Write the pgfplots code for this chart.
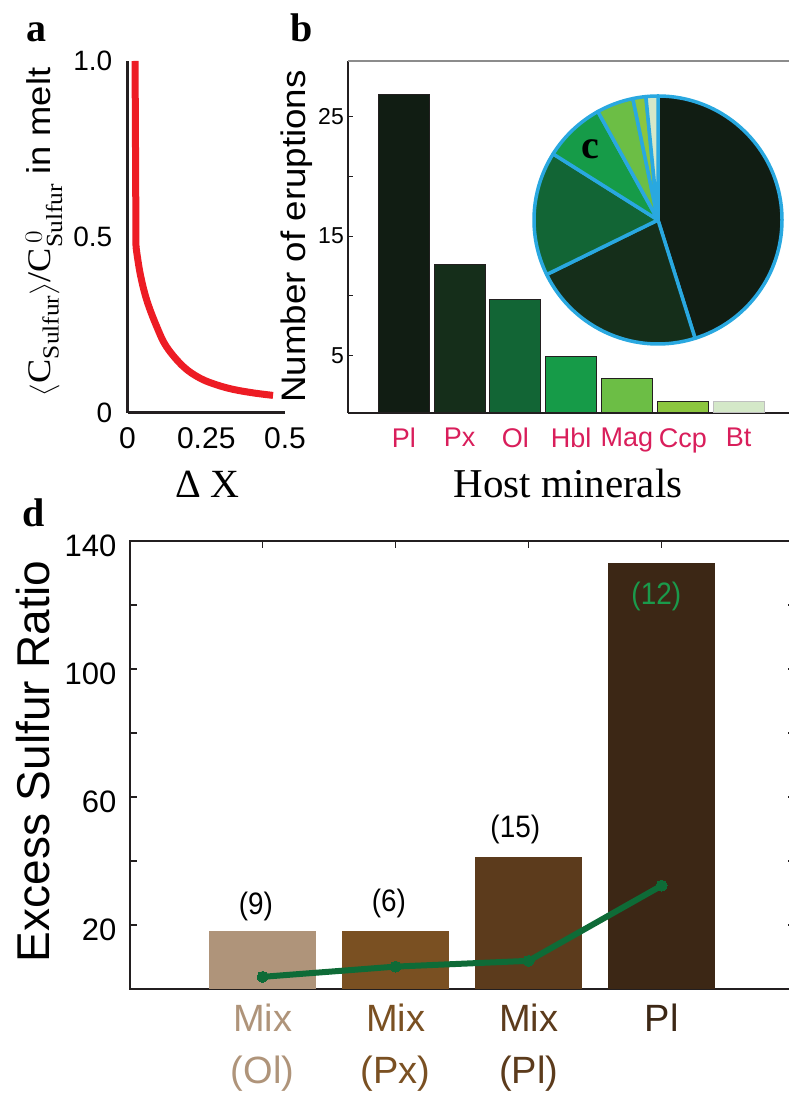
\documentclass[border=0pt]{standalone}
\usepackage{fontspec}
\setmainfont{Liberation Serif}
\setsansfont{Liberation Sans}
\usepackage{amsmath}
\usepackage{graphicx}
\usepackage{pgfplots}
\pgfplotsset{compat=1.18}
\usepackage{pgfplotstable}

\definecolor{axisdark}{HTML}{231F20}
\definecolor{curvered}{HTML}{ED1C24}
\definecolor{labred}{HTML}{D91E5B}
\definecolor{cPl}{HTML}{111D13}
\definecolor{cPx}{HTML}{152E1A}
\definecolor{cOl}{HTML}{126535}
\definecolor{cHbl}{HTML}{169B48}
\definecolor{cMag}{HTML}{6CBE45}
\definecolor{cCcp}{HTML}{8CC63F}
\definecolor{cBt}{HTML}{D4E8C8}
\definecolor{piecyan}{HTML}{29A8E0}
\definecolor{cMixOl}{HTML}{AF947A}
\definecolor{cMixPx}{HTML}{7A5022}
\definecolor{cMixPl}{HTML}{5C3B1C}
\definecolor{cPlD}{HTML}{3C2715}
\definecolor{lineGreen}{HTML}{0E6B37}
\definecolor{lblGreen}{HTML}{1A9A4B}

\newcommand{\fsz}[1]{\fontsize{#1}{#1}\selectfont}

\begin{document}
\begin{tikzpicture}
\useasboundingbox (0pt,0pt) rectangle (788pt,1093pt);

% ---------------- panel a ----------------
\begin{axis}[
  at={(127.5pt,680pt)}, anchor=south west, scale only axis,
  width=157.5pt, height=352pt,
  xmin=0, xmax=0.5, ymin=0, ymax=1,
  axis x line*=bottom, axis y line*=left,
  axis line style={line width=3pt, color=axisdark, -},
  xtick={0,0.25,0.5}, xticklabels={0,0.25,0.5},
  ytick={0,0.5,1}, yticklabels={0,0.5,1.0},
  major tick length=0pt,
  xticklabel style={font=\sffamily\fsz{30}, anchor=north, inner sep=0pt, yshift=-14pt},
  yticklabel style={font=\sffamily\fsz{28}, anchor=east, inner sep=0pt, xshift=-15pt},
  clip=false,
]
\addplot[color=curvered, line width=7pt] coordinates {(0.024,1.0) (0.027,0.472)};
\addplot[color=curvered, line width=7pt, smooth, tension=0.6] coordinates {
(0.027,0.472) (0.040,0.397) (0.061,0.321) (0.093,0.245)
(0.124,0.188) (0.177,0.132) (0.230,0.099) (0.283,0.080) (0.336,0.067)
(0.400,0.057) (0.462,0.050)};
\end{axis}

% ---------------- panel b ----------------
\begin{axis}[
  at={(348pt,680pt)}, anchor=south west, scale only axis,
  width=446.4pt, height=352pt,
  xmin=-1, xmax=7, ymin=0.15, ymax=29.7,
  axis x line*=bottom, axis y line*=left,
  axis line style={line width=2.5pt, color=axisdark, -},
  tick align=inside, major tick length=5pt,
  tick style={line width=1pt, color=axisdark},
  ytick={5,15,25}, extra y ticks={10,20}, extra y tick labels={},
  yticklabel style={font=\sffamily\fsz{23}, anchor=east, inner sep=0pt, xshift=-4pt},
  /pgf/number format/assume math mode=true,
  xtick={0,1.21,2.43,3.66,4.88,6.1}, xticklabels={},
  extra x ticks={0,1,2,3,4,5,6},
  extra x tick labels={Pl,Px,Ol,Hbl,Mag,Ccp,Bt},
  extra x tick style={major tick length=0pt},
  xticklabel style={font=\sffamily\fsz{27}, text=labred, anchor=north, inner sep=0pt, yshift=-15pt},
]
\addplot[ybar, bar width=0.914, fill=cPl,  draw=axisdark, line width=1pt] coordinates {(0,26.9)};
\addplot[ybar, bar width=0.914, fill=cPx,  draw=axisdark, line width=1pt] coordinates {(1,12.6)};
\addplot[ybar, bar width=0.914, fill=cOl,  draw=axisdark, line width=1pt] coordinates {(2,9.7)};
\addplot[ybar, bar width=0.914, fill=cHbl, draw=axisdark, line width=1pt] coordinates {(3,4.9)};
\addplot[ybar, bar width=0.914, fill=cMag, draw=axisdark, line width=1pt] coordinates {(4,3.05)};
\addplot[ybar, bar width=0.914, fill=cCcp, draw=axisdark, line width=1pt] coordinates {(5,1.15)};
\addplot[ybar, bar width=0.914, fill=cBt,  draw=black!25, line width=1pt] coordinates {(6,1.15)};
\draw[line width=3pt, color=black!45] (rel axis cs:0,1) -- (rel axis cs:1,1);
\end{axis}

% ---------------- panel c (pie) ----------------
\begin{axis}[
  at={(658pt,873pt)}, anchor=center, scale only axis, hide axis,
  width=260pt, height=260pt, xmin=-130, xmax=130, ymin=-130, ymax=130,
  clip=false,
]
% slice angles = 6 x count (counts 27.1, 13.55, 9.72, 4.8, 2.88, 1.02, 0.93 of 60)
\filldraw[fill=cPl, draw=piecyan, line width=3.5pt, line join=round]
  (axis cs:0,0) -- (axis cs:0,124) arc[start angle=90, end angle=-72.6, radius=124pt] -- cycle;
\filldraw[fill=cPx, draw=piecyan, line width=3.5pt, line join=round]
  (axis cs:0,0) -- (axis cs:{124*cos(-72.6)},{124*sin(-72.6)}) arc[start angle=-72.6, end angle=-153.9, radius=124pt] -- cycle;
\filldraw[fill=cOl, draw=piecyan, line width=3.5pt, line join=round]
  (axis cs:0,0) -- (axis cs:{124*cos(-153.9)},{124*sin(-153.9)}) arc[start angle=-153.9, end angle=-212.2, radius=124pt] -- cycle;
\filldraw[fill=cHbl, draw=piecyan, line width=3.5pt, line join=round]
  (axis cs:0,0) -- (axis cs:{124*cos(-212.2)},{124*sin(-212.2)}) arc[start angle=-212.2, end angle=-241.0, radius=124pt] -- cycle;
\filldraw[fill=cMag, draw=piecyan, line width=3.5pt, line join=round]
  (axis cs:0,0) -- (axis cs:{124*cos(-241.0)},{124*sin(-241.0)}) arc[start angle=-241.0, end angle=-258.3, radius=124pt] -- cycle;
\filldraw[fill=cCcp, draw=piecyan, line width=3.5pt, line join=round]
  (axis cs:0,0) -- (axis cs:{124*cos(-258.3)},{124*sin(-258.3)}) arc[start angle=-258.3, end angle=-264.4, radius=124pt] -- cycle;
\filldraw[fill=cBt, draw=piecyan, line width=3.5pt, line join=round]
  (axis cs:0,0) -- (axis cs:{124*cos(-264.4)},{124*sin(-264.4)}) arc[start angle=-264.4, end angle=-270, radius=124pt] -- cycle;
\end{axis}

% ---------------- panel d ----------------
\begin{axis}[
  at={(129.6pt,104pt)}, anchor=south west, scale only axis,
  width=665pt, height=448pt,
  xmin=-1, xmax=4, ymin=0, ymax=140,
  axis line style={line width=2pt, color=axisdark},
  tick align=inside, major tick length=7pt,
  tick style={line width=1.2pt, color=axisdark},
  xtick={0,1,2,3},
  xticklabels={{\textcolor{cMixOl}{Mix}\\\textcolor{cMixOl}{(Ol)}},
               {\textcolor{cMixPx}{Mix}\\\textcolor{cMixPx}{(Px)}},
               {\textcolor{cMixPl}{Mix}\\\textcolor{cMixPl}{(Pl)}},
               {\textcolor{cPlD}{Pl}}},
  xticklabel style={font=\sffamily\fontsize{38}{52}\selectfont, align=center, anchor=north, inner sep=0pt, yshift=-15pt},
  ytick={20,60,100,140}, extra y ticks={40,80,120}, extra y tick labels={},
  yticklabel style={font=\sffamily\fsz{31}, anchor=east, inner sep=0pt, xshift=-13pt, yshift=-5pt},
  /pgf/number format/assume math mode=true,
]
\addplot[ybar, bar width=0.8, fill=cMixOl, draw=none] coordinates {(0,18)};
\addplot[ybar, bar width=0.8, fill=cMixPx, draw=none] coordinates {(1,18)};
\addplot[ybar, bar width=0.8, fill=cMixPl, draw=none] coordinates {(2,41.3)};
\addplot[ybar, bar width=0.8, fill=cPlD,   draw=none] coordinates {(3,133)};
\addplot[color=lineGreen, line width=6pt, mark=*, mark size=5.5pt,
  mark options={fill=lineGreen, draw=lineGreen, line width=0pt}]
  coordinates {(0,3.8) (1,7.0) (2,8.8) (3,32.3)};
\node[font=\sffamily\fsz{31}] at (axis cs:-0.05,25.9) {\scalebox{0.9}[1]{(9)}};
\node[font=\sffamily\fsz{31}] at (axis cs:0.95,26.6) {\scalebox{0.9}[1]{(6)}};
\node[font=\sffamily\fsz{31}] at (axis cs:1.9,49.7) {\scalebox{0.9}[1]{(15)}};
\node[font=\sffamily\fsz{31}, text=lblGreen] at (axis cs:2.96,122.8) {\scalebox{0.9}[1]{(12)}};
\end{axis}

% ---------------- labels ----------------
\node[font=\bfseries\fsz{40}, anchor=base] at (37pt,1051pt) {a};
\node[font=\bfseries\fsz{40}, anchor=base] at (302pt,1051pt) {b};
\node[font=\bfseries\fsz{40}, anchor=base] at (590pt,934.7pt) {c};
\node[font=\bfseries\fsz{40}, anchor=base] at (34pt,566.3pt) {d};
\node[font=\fsz{41}, anchor=base] at (568pt,595pt) {Host minerals};
\node[font=\fsz{40}, anchor=base] at (207.5pt,595pt) {Δ X};
\node[rotate=90, font=\sffamily\fsz{34}] at (297pt,856.5pt) {\scalebox{1.08}[1]{Number of eruptions}};
\node[rotate=90, font=\sffamily\fsz{46}] at (33pt,331.5pt) {Excess Sulfur Ratio};
\node[rotate=90, font=\fsz{33}, inner sep=0pt] at (44pt,861pt)
  {\scalebox{1.1}[1]{$\left\langle\text{C}_{\text{Sulfur}}\right\rangle$/C$^{\,0}_{\text{Sulfur}}$ {\sffamily in melt}}};
\end{tikzpicture}
\end{document}
